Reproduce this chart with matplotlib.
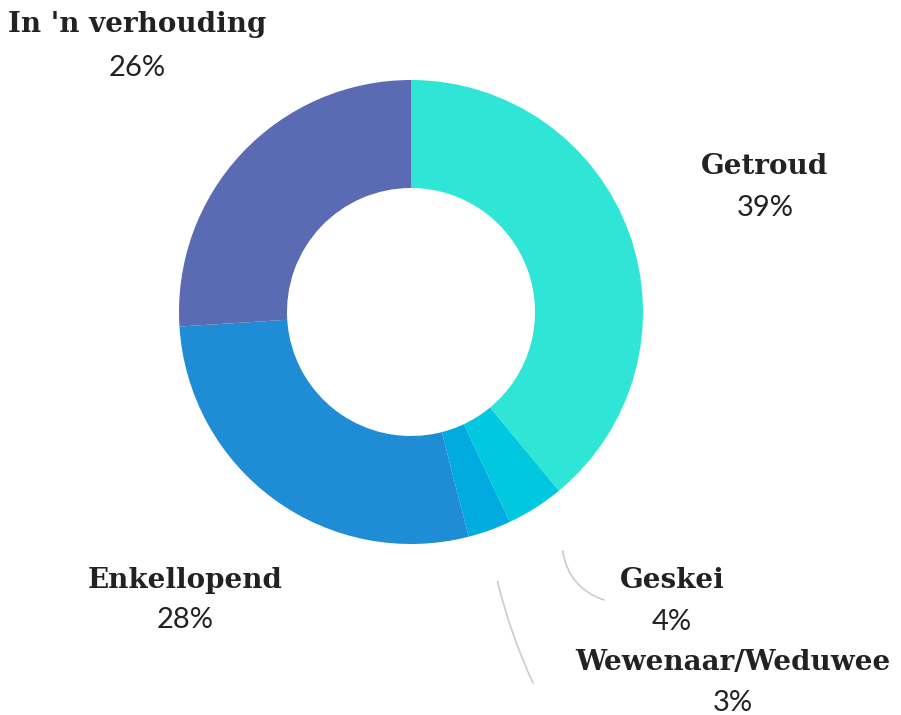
# -*- coding: utf-8 -*-
# Donut chart: huwelikstatus
import numpy as np
import matplotlib
matplotlib.use("Agg")
import matplotlib.pyplot as plt

# Data
labels = ["Getroud", "Geskei", "Wewenaar/Weduwee", "Enkellopend", "In 'n verhouding"]
values = [39, 4, 3, 28, 26]
colors = ["#2EE5D6", "#00C9DF", "#00ABE0", "#1F8CD6", "#5A6BB3"]

# Label anchor points (pixel coords, y from top) for name / percentage
label_pos = {
    "Getroud": (765, 166, 208),
    "Geskei": (672, 580, 622),
    "Wewenaar/Weduwee": (733, 663, 703),
    "Enkellopend": (185, 580, 620),
    "In 'n verhouding": (137, 24, 68),
}

W, H = 901, 715
cx, cy, R = 411, 312, 232
ring = 108

fig = plt.figure(figsize=(W / 100, H / 100), dpi=100)
ax = fig.add_axes([0, 0, 1, 1])

ax.pie(values, colors=colors, startangle=90, counterclock=False,
       center=(cx, H - cy), radius=R,
       wedgeprops=dict(width=ring, linewidth=0))

# pie() resets the limits, so set them afterwards
ax.set_xlim(0, W)
ax.set_ylim(0, H)
ax.set_aspect("equal")
ax.axis("off")

# Text labels
for lab, v in zip(labels, values):
    x, y1, y2 = label_pos[lab]
    ax.text(x, H - y1, lab, ha="center", va="center", fontsize=20,
            fontweight="bold", family="DejaVu Serif", color="#222222")
    ax.text(x, H - y2, f"{v}%", ha="center", va="center", fontsize=21,
            fontweight="normal", family="Lato", color="#222222")

# Leader lines for the two small slices
cum = np.cumsum([0] + values)
ends = {"Geskei": ((604, 600), 0.3, 0), "Wewenaar/Weduwee": ((533, 683), 0.05, -2)}
for i, lab in enumerate(labels):
    if lab not in ends:
        continue
    (ex, ey), rad, shift = ends[lab]
    mid = 90 - 360 * (cum[i] + values[i] / 2) / 100 + shift
    a = np.deg2rad(mid)
    sx = cx + 1.22 * R * np.cos(a)
    sy = H - cy + 1.22 * R * np.sin(a)
    ax.annotate("", xy=(ex, H - ey), xytext=(sx, sy),
                arrowprops=dict(arrowstyle="-", color="#cccccc", lw=1.2,
                                connectionstyle=f"arc3,rad={rad}",
                                shrinkA=0, shrinkB=0))

fig.savefig("out.png", dpi=100)
